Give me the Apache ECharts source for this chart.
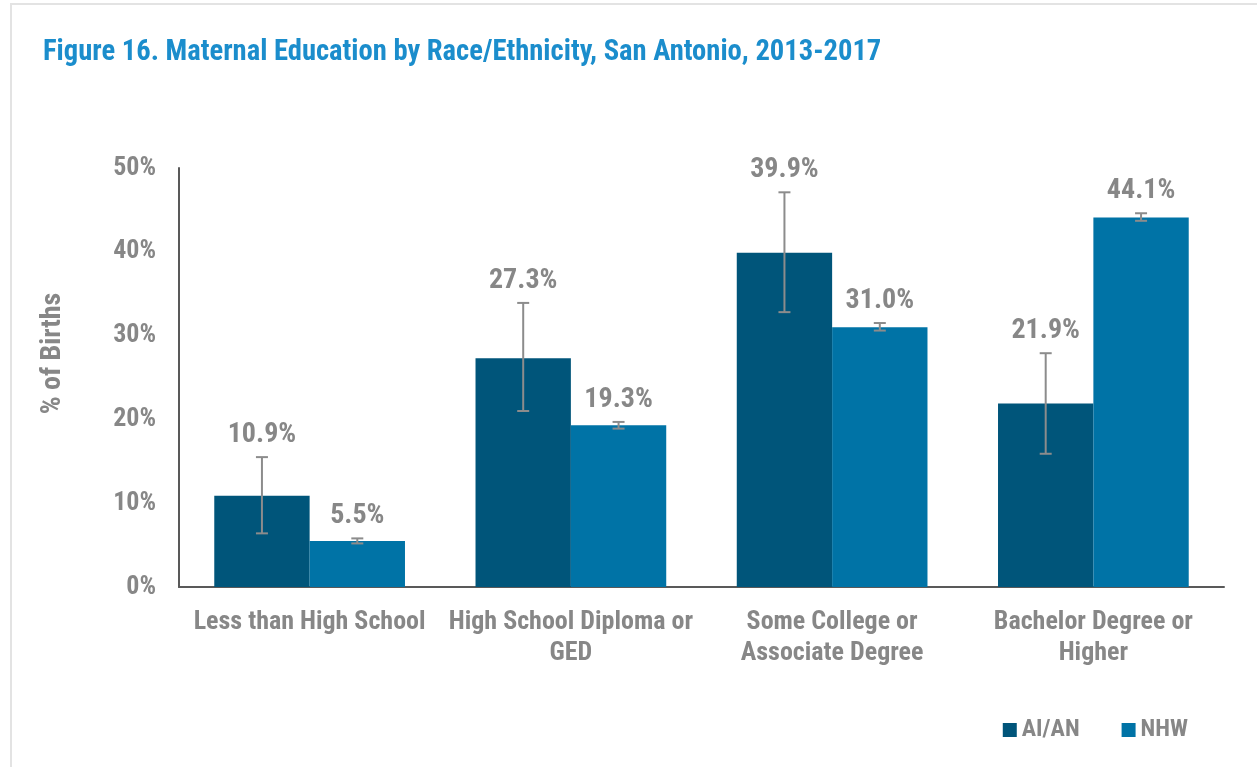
<!DOCTYPE html>
<html>
<head>
<meta charset="utf-8">
<script src="https://cdn.jsdelivr.net/npm/echarts@6/dist/echarts.min.js"></script>
<style>
  html, body { margin: 0; padding: 0; background: #fff; }
  #frame { position: absolute; left: 10px; top: 3px; right: 0; bottom: 0; border-left: 2px solid #e3e3e3; border-top: 2px solid #e3e3e3; }
  #chart { position: absolute; left: 0; top: 0; width: 1257px; height: 767px; }
</style>
</head>
<body>
<div id="frame"></div>
<div id="chart"></div>
<script>
// 类别与数据
const categories = ['Less than High School', 'High School Diploma or\nGED', 'Some College or\nAssociate Degree', 'Bachelor Degree or\nHigher'];
const aianValues = [10.9, 27.3, 39.9, 21.9];
const nhwValues = [5.5, 19.3, 31.0, 44.1];
// 误差线（下限/上限）
const aianLow = [6.4, 21.0, 32.8, 15.9];
const aianHigh = [15.5, 33.9, 47.1, 27.9];
const nhwLow = [5.2, 18.9, 30.6, 43.7];
const nhwHigh = [5.8, 19.7, 31.5, 44.6];

const gray = '#878787';
const font = "'Liberation Sans Narrow', 'Arial Narrow', 'Roboto Condensed', sans-serif";
const catGap = 0.27;

// custom 系列的数据：[类别, 下限, 上限, 系列号, 值]
const errData = [];
aianValues.forEach((v, i) => errData.push([i, aianLow[i], aianHigh[i], 0, v]));
nhwValues.forEach((v, i) => errData.push([i, nhwLow[i], nhwHigh[i], 1, v]));

function renderErr(params, api) {
  const ci = api.value(0);
  const s = api.value(3);
  const bandW = api.size([1, 0])[0];
  const barW = bandW * (1 - catGap) / 2;
  const cx = api.coord([ci, 0])[0] + (s === 0 ? -barW / 2 : barW / 2);
  const lo = api.coord([ci, api.value(1)])[1];
  const hi = api.coord([ci, api.value(2)])[1];
  const cap = 6;
  const st = { stroke: '#8c8c8c', lineWidth: 2 };
  return {
    type: 'group',
    children: [
      { type: 'line', shape: { x1: cx, y1: lo, x2: cx, y2: hi }, style: st },
      { type: 'line', shape: { x1: cx - cap, y1: lo, x2: cx + cap, y2: lo }, style: st },
      { type: 'line', shape: { x1: cx - cap, y1: hi, x2: cx + cap, y2: hi }, style: st },
      {
        type: 'text',
        style: {
          x: cx, y: hi - 22,
          text: api.value(4).toFixed(1) + '%',
          fill: gray, font: 'bold 28px ' + font,
          align: 'center', verticalAlign: 'middle'
        }
      }
    ]
  };
}

const chart = echarts.init(document.getElementById('chart'));
chart.setOption({
  animation: false,
  title: {
    text: 'Figure 16. Maternal Education by Race/Ethnicity, San Antonio, 2013-2017',
    left: 38, top: 33,
    textStyle: { color: '#1b8dcc', fontSize: 28.6, fontWeight: 'bold', fontFamily: font }
  },
  legend: {
    data: ['AI/AN', 'NHW'],
    right: 64, top: 713,
    itemWidth: 14, itemHeight: 14, itemGap: 42,
    icon: 'rect',
    textStyle: { color: gray, fontSize: 24, fontWeight: 'bold', fontFamily: font }
  },
  grid: { left: 179, right: 33, top: 168, bottom: 180 },
  xAxis: {
    type: 'category',
    data: categories,
    axisLine: { lineStyle: { color: '#595959', width: 2 } },
    axisTick: { show: false },
    axisLabel: { color: gray, fontSize: 26, fontWeight: 'bold', fontFamily: font, margin: 20, lineHeight: 31, interval: 0 }
  },
  yAxis: {
    type: 'value',
    min: 0, max: 50, interval: 10,
    name: '% of Births',
    nameLocation: 'middle',
    nameGap: 112,
    nameTextStyle: { color: gray, fontSize: 28, fontWeight: 'bold', fontFamily: font, padding: [0, 0, 0, 48] },
    axisLine: { show: true, lineStyle: { color: '#595959', width: 2 } },
    axisTick: { show: false },
    splitLine: { show: false },
    axisLabel: { color: gray, fontSize: 26, fontWeight: 'bold', fontFamily: font, margin: 23, formatter: '{value}%' }
  },
  series: [
    { name: 'AI/AN', type: 'bar', data: aianValues, barGap: '0%', barCategoryGap: '27%', itemStyle: { color: '#00557a' } },
    { name: 'NHW', type: 'bar', data: nhwValues, barGap: '0%', barCategoryGap: '27%', itemStyle: { color: '#0073a6' } },
    { type: 'custom', renderItem: renderErr, data: errData, encode: { x: 0, y: [1, 2] }, z: 10 }
  ]
});
</script>
</body>
</html>
